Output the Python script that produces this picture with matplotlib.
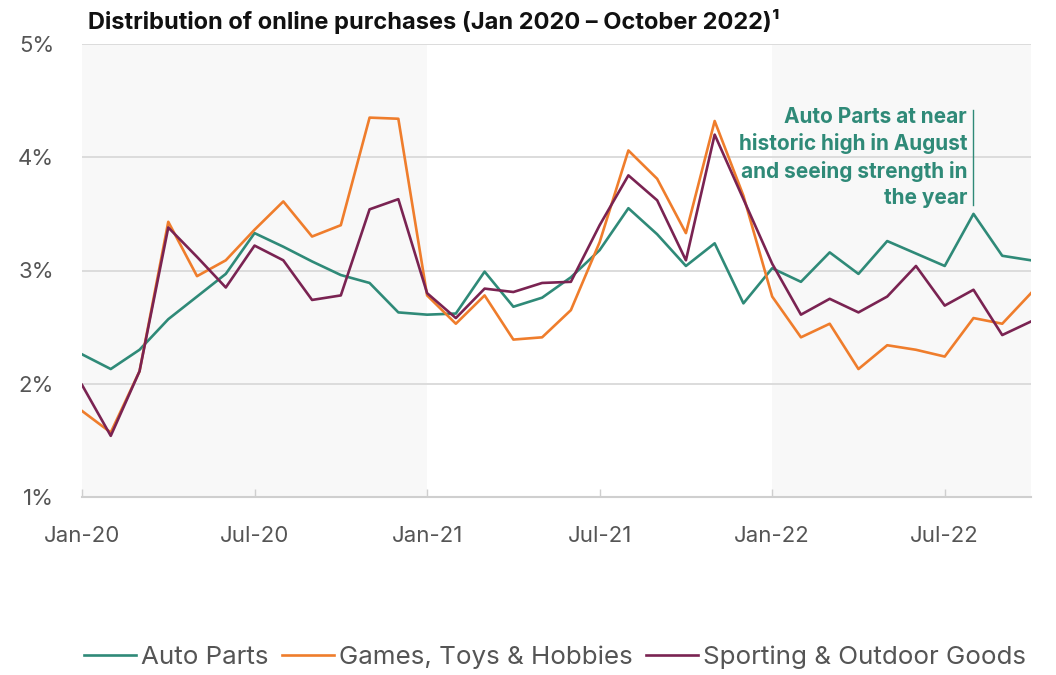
import matplotlib
matplotlib.use('Agg')
import matplotlib.pyplot as plt
import numpy as np

plt.rcParams['font.family'] = ['Inter', 'DejaVu Sans']

# monthly share of online purchases, Jan 2020 - Oct 2022 (%)
months = ['Jan-20', 'Feb-20', 'Mar-20', 'Apr-20', 'May-20', 'Jun-20', 'Jul-20', 'Aug-20', 'Sep-20', 'Oct-20',
          'Nov-20', 'Dec-20', 'Jan-21', 'Feb-21', 'Mar-21', 'Apr-21', 'May-21', 'Jun-21', 'Jul-21', 'Aug-21',
          'Sep-21', 'Oct-21', 'Nov-21', 'Dec-21', 'Jan-22', 'Feb-22', 'Mar-22', 'Apr-22', 'May-22', 'Jun-22',
          'Jul-22', 'Aug-22', 'Sep-22', 'Oct-22']
auto_parts = [2.26, 2.13, 2.30, 2.57, 2.77, 2.97, 3.33, 3.21, 3.08, 2.96, 2.89, 2.63, 2.61,
              2.62, 2.99, 2.68, 2.76, 2.94, 3.18, 3.55, 3.32, 3.04, 3.24, 2.71,
              3.02, 2.90, 3.16, 2.97, 3.26, 3.15, 3.04, 3.50, 3.13, 3.09]
games_toys = [1.76, 1.57, 2.11, 3.43, 2.95, 3.09, 3.36, 3.61, 3.30, 3.40, 4.35, 4.34, 2.78,
              2.53, 2.78, 2.39, 2.41, 2.65, 3.25, 4.06, 3.81, 3.33, 4.32, 3.66,
              2.77, 2.41, 2.53, 2.13, 2.34, 2.30, 2.24, 2.58, 2.53, 2.80]
sporting = [1.99, 1.54, 2.11, 3.38, 3.12, 2.85, 3.22, 3.09, 2.74, 2.78, 3.54, 3.63, 2.80,
            2.58, 2.84, 2.81, 2.89, 2.90, 3.40, 3.84, 3.62, 3.09, 4.20, 3.63,
            3.06, 2.61, 2.75, 2.63, 2.77, 3.04, 2.69, 2.83, 2.43, 2.55]
series_names = ['Auto Parts', 'Games, Toys & Hobbies', 'Sporting & Outdoor Goods']
colors = ['#2f8a78', '#ef7d2c', '#7a2352']

x = np.arange(len(months))

fig = plt.figure(figsize=(10.56, 6.75), dpi=100)
fig.patch.set_facecolor('white')
ax = fig.add_axes([82/1056, 1-497/675, (1031-82)/1056, (497-44)/675])

# shaded periods (2020 and 2022)
ax.axvspan(0, 12, color='#f8f8f8', zorder=0, lw=0)
ax.axvspan(24, len(months)-1, color='#f8f8f8', zorder=0, lw=0)

for vals, name, c in zip([auto_parts, games_toys, sporting], series_names, colors):
    ax.plot(x, vals, color=c, lw=1.9, label=name, zorder=3)

ax.set_xlim(0, len(months)-1)
ax.set_ylim(1, 5)
ax.set_yticks([1, 2, 3, 4, 5])
ax.set_yticklabels(['1%', '2%', '3%', '4%', '5%'])
ax.set_xticks(x[::6])
ax.set_xticklabels(months[::6])

ax.grid(axis='y', color='#d9d9d9', lw=1.3, zorder=1)
for s in ['top', 'right', 'left']:
    ax.spines[s].set_visible(False)
ax.spines['bottom'].set_color('#cfcfcf')
ax.spines['bottom'].set_linewidth(1.5)
ax.tick_params(axis='x', direction='in', length=6, width=1, color='#cfcfcf',
               labelsize=16, labelcolor='#555555', pad=21)
ax.tick_params(axis='y', length=0, labelsize=16, labelcolor='#555555', pad=20)

# annotation
ax.text(30.78, 4.0, 'Auto Parts at near\nhistoric high in August\nand seeing strength in\nthe year',
        ha='right', va='center', fontsize=15, fontweight='bold', color='#2f8a78',
        linespacing=1.38, zorder=4)
ax.plot([31, 31], [3.58, 4.42], color='#2f8a78', lw=1, zorder=4)

fig.text(88/1056, 1-21/675, 'Distribution of online purchases (Jan 2020 \u2013 October 2022)\u00b9',
         ha='left', va='center', fontsize=17, fontweight='bold', color='#111111')

fig.legend(loc='center', bbox_to_anchor=(555/1056, 1-657/675), ncol=3, frameon=False,
           fontsize=18.7, labelcolor='#555555', handlelength=2.0, handletextpad=0.2,
           columnspacing=0.5)

fig.savefig('out.png', dpi=100, facecolor='white')
